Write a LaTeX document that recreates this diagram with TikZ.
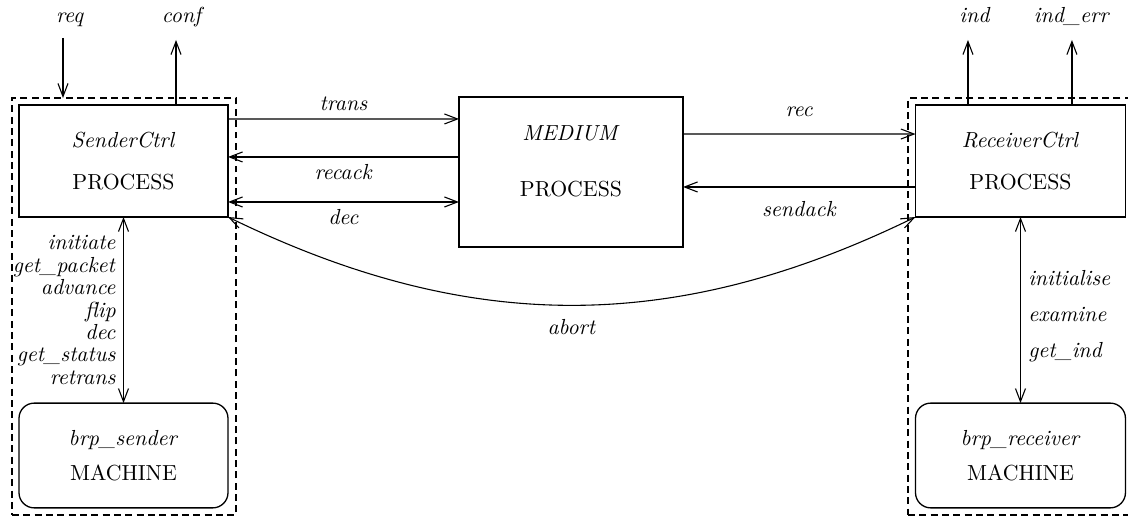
\documentclass[tikz,border=0pt]{standalone}
\usepackage{tikz}
\usetikzlibrary{arrows.meta}

\begin{document}
\begin{tikzpicture} [
    processNode/.style={rectangle, draw, line width=0.6pt, inner sep=0pt, outer sep=0pt, align=center},
    machineNode/.style={rectangle, rounded corners=7pt, draw, line width=0.6pt, inner sep=0pt, outer sep=0pt, align=center, minimum height=1.69cm},
    groupBox/.style={rectangle, draw, line width=0.8pt, dash pattern=on 3.2pt off 2pt, inner sep=0pt, outer sep=0pt, minimum height=6.726cm},
    topLabel/.style={anchor=base, inner sep=0pt},
    arrow/.style={line width=0.5pt, -{Straight Barb[length=6pt,width=4.6pt]}},
    dblArrow/.style={line width=0.5pt, {Straight Barb[length=6pt,width=4.6pt]}-{Straight Barb[length=6pt,width=4.6pt]}}
]
    \useasboundingbox (0,0) rectangle (18.194,-8.355);

    % dashed groups
    \node[groupBox, minimum width=3.613cm] (sendGroup) at (2.0, -4.944) {};
    \node[groupBox, minimum width=3.742cm] (recvGroup) at (16.516, -4.944) {};

    % processes
    \node[processNode, minimum width=3.371cm, minimum height=1.806cm] (sender) at (1.992, -2.597) {\textit{SenderCtrl}\\[7pt]PROCESS};
    \node[processNode, minimum width=3.613cm, minimum height=2.419cm] (medium) at (9.21, -2.774) {};
    \node[align=center] (mediumText) at ([yshift=0.17cm]medium.center) {\textit{MEDIUM}\\[14pt]PROCESS};
    \node[processNode, minimum width=3.387cm, minimum height=1.806cm] (receiver) at (16.46, -2.597) {\textit{ReceiverCtrl}\\[7pt]PROCESS};

    % machines
    \node[machineNode, minimum width=3.371cm] (brpSender) at (1.992, -7.347) {\textit{brp\_sender}\\[4pt]MACHINE};
    \node[machineNode, minimum width=3.387cm] (brpReceiver) at (16.46, -7.347) {\textit{brp\_receiver}\\[4pt]MACHINE};

    % environment
    \coordinate (reqIn) at (1.016, -0.613);
    \coordinate (confOut) at (2.839, -0.645);
    \coordinate (indOut) at (15.613, -0.645);
    \coordinate (indErrOut) at (17.29, -0.645);
    \node[topLabel] (req) at (1.129, -0.371) {\textit{req}};
    \node[topLabel] (conf) at (2.952, -0.371) {\textit{conf}};
    \node[topLabel] (ind) at (15.726, -0.371) {\textit{ind}};
    \node[topLabel] (indErr) at (17.29, -0.371) {\textit{ind\_err}};

    \draw [arrow] (reqIn) -- (reqIn |- sendGroup.north);
    \draw [arrow] (confOut |- sender.north) -- (confOut);
    \draw [arrow] (indOut |- receiver.north) -- (indOut);
    \draw [arrow] (indErrOut |- receiver.north) -- (indErrOut);

    \draw [arrow] ([yshift=0.677cm]sender.east) -- ([yshift=0.855cm]medium.west) node[midway, above] {\textit{trans}};
    \draw [arrow] ([yshift=0.242cm]medium.west) -- ([yshift=0.065cm]sender.east) node[midway, below] {\textit{recack}};
    \draw [dblArrow] ([yshift=-0.661cm]sender.east) -- ([yshift=-0.484cm]medium.west) node[midway, below] {\textit{dec}};
    \draw [arrow] ([yshift=0.613cm]medium.east) -- ([yshift=0.435cm]receiver.west) node[midway, above=4.5pt] {\textit{rec}};
    \draw [arrow] ([yshift=-0.419cm]receiver.west) -- ([yshift=-0.242cm]medium.east) node[midway, below=3pt] {\textit{sendack}};
    \draw [dblArrow] (sender.south east) to[bend right=26] node[midway, below=3pt] {\textit{abort}} (receiver.south west);

    \draw [dblArrow] (sender.south) -- (brpSender.north) node[midway, left, align=right] {\textit{initiate}\\[-1.7pt]\textit{get\_packet}\\[-1.7pt]\textit{advance}\\[-1.7pt]\textit{flip}\\[-1.7pt]\textit{dec}\\[-1.7pt]\textit{get\_status}\\[-1.7pt]\textit{retrans}};
    \draw [dblArrow] (receiver.south) -- (brpReceiver.north) node[midway, right, align=left, yshift=-0.1cm] {\textit{initialise}\\[4.7pt]\textit{examine}\\[4.7pt]\textit{get\_ind}};
\end{tikzpicture}
\end{document}
